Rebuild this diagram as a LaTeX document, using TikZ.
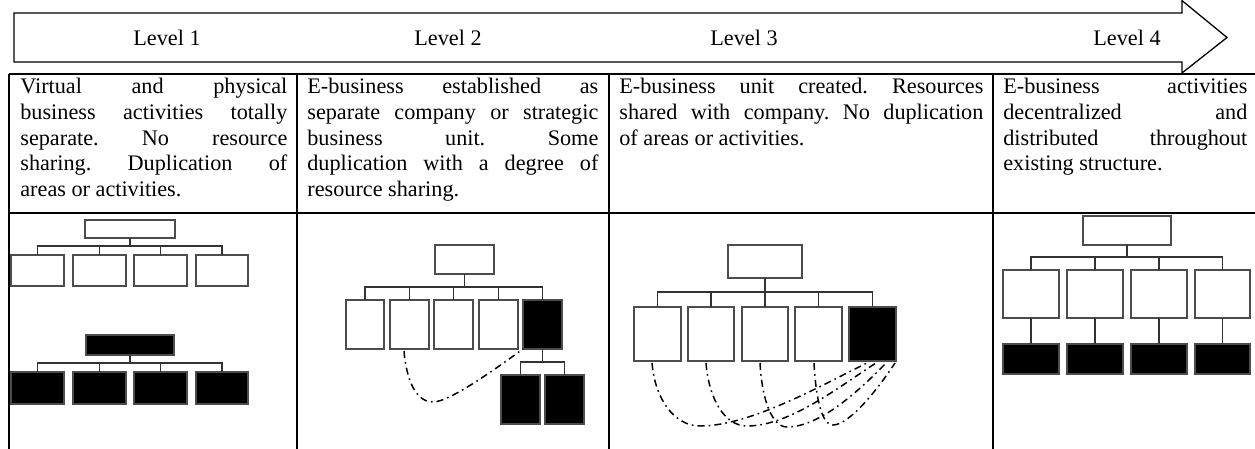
\documentclass[tikz,border=0pt]{standalone}
\usepackage{fontspec}
\setmainfont{Liberation Serif}
\usetikzlibrary{calc}
\frenchspacing
\newcommand\orgbox[6]{%
  \node[#1, minimum width={(#5-#3)*0.54pt}, minimum height={(#6-#4)*0.54pt}] (#2) at ({(#3+#5)/2},{(#4+#6)/2}) {};}
\newcommand\branch[3]{% top, child, bar
  \draw[link] (#2.north) |- (#1.south |- #3);}
\begin{document}
\begin{tikzpicture}[x=0.54pt, y=-0.54pt,
  wbox/.style={draw=black!70, fill=white, line width=0.6pt, inner sep=0pt, outer sep=0pt},
  bbox/.style={wbox, fill=black},
  link/.style={draw=black!80, line width=0.6pt},
  share/.style={line width=0.8pt, dash pattern=on 3.8pt off 2.2pt on 0.9pt off 2.2pt},
  tbl/.style={line width=1.1pt},
  lvl/.style={font=\fontsize{12pt}{13.8pt}\selectfont, inner sep=0pt},
  cell/.style={font=\fontsize{12pt}{13.8pt}\selectfont\frenchspacing, align=justify, anchor=base west, inner sep=0pt}]
\useasboundingbox (0,0) rectangle (1255,449);
\tolerance=10000 \hbadness=10000 \hyphenpenalty=10000

% process arrow
\draw[line width=0.7pt, line join=miter] (14,13) -- (1182,13) -- (1182,0.6) -- (1227,37.5) -- (1182,73) -- (1182,62) -- (14,62) -- cycle;
\node[lvl] (l1) at (167,38) {Level 1};
\node[lvl] (l2) at (448,38) {Level 2};
\node[lvl] (l3) at (744,38) {Level 3};
\node[lvl] (l4) at (1127,38) {Level 4};

% table rules
\draw[tbl] (9,74) -- (1255,74);
\draw[tbl] (9,213) -- (1255,213);
\foreach \x in {9,297,609,993} \draw[tbl] (\x,74) -- (\x,449);

% descriptions
\node[cell, text width=267*0.54pt] (t1) at (20,94) {Virtual and physical\linebreak business activities totally\linebreak separate. No resource\linebreak sharing. Duplication of\linebreak areas or activities.};
\node[cell, text width=291*0.54pt] (t2) at (307,94) {E-business established as\linebreak separate company or strategic\linebreak business unit. Some\linebreak duplication with a degree of\linebreak resource sharing.};
\node[cell, text width=364*0.54pt] (t3) at (619,94) {E-business unit created. Resources\linebreak shared with company. No duplication\linebreak of areas or activities.};
\node[cell, text width=244*0.54pt] (t4) at (1003,94) {E-business activities\linebreak decentralized and\linebreak distributed throughout\linebreak existing structure.};

% ---- Level 1 ----
\orgbox{wbox}{a0}{85}{220}{175}{238}
\orgbox{wbox}{a1}{11}{255}{64}{286}
\orgbox{wbox}{a2}{73}{255}{126}{286}
\orgbox{wbox}{a3}{134}{255}{187}{286}
\orgbox{wbox}{a4}{196}{255}{248}{286}
\coordinate (abar) at (0,246);
\draw[link] (a0.south) -- (a0.south |- abar);
\foreach \c in {a1,a2,a3,a4} \branch{a0}{\c}{abar};
\orgbox{bbox}{b0}{86}{335}{174}{355}
\orgbox{bbox}{b1}{11}{372}{64}{404}
\orgbox{bbox}{b2}{73}{372}{126}{404}
\orgbox{bbox}{b3}{134}{372}{187}{404}
\orgbox{bbox}{b4}{196}{372}{248}{404}
\coordinate (bbar) at (0,363);
\draw[link] (b0.south) -- (b0.south |- bbar);
\foreach \c in {b1,b2,b3,b4} \branch{b0}{\c}{bbar};

% ---- Level 2 ----
\orgbox{wbox}{c0}{435}{245}{494}{274}
\orgbox{wbox}{c1}{346}{300}{384}{349}
\orgbox{wbox}{c2}{390}{300}{429}{349}
\orgbox{wbox}{c3}{434}{300}{473}{349}
\orgbox{wbox}{c4}{479}{300}{518}{349}
\orgbox{bbox}{c5}{523}{300}{562}{349}
\coordinate (cbar) at (0,287);
\draw[link] (c0.south) -- (c0.south |- cbar);
\foreach \c in {c1,c2,c3,c4,c5} \branch{c0}{\c}{cbar};
\orgbox{bbox}{c6}{501}{375}{540}{424}
\orgbox{bbox}{c7}{545}{375}{584}{424}
\coordinate (c5bar) at (0,362);
\draw[link] (c5.south) -- (c5.south |- c5bar);
\foreach \c in {c6,c7} \branch{c5}{\c}{c5bar};
\coordinate (cs) at (404,351);
\coordinate (cm) at (433,402);
\draw[share] (cs) .. controls (407,385) and (418,402) .. (cm) .. controls (450,402) and (498,367) .. (c5.south west);

% ---- Level 3 ----
\orgbox{wbox}{d0}{728}{245}{802}{278}
\orgbox{wbox}{d1}{634}{307}{681}{361}
\orgbox{wbox}{d2}{688}{307}{734}{361}
\orgbox{wbox}{d3}{742}{307}{788}{361}
\orgbox{wbox}{d4}{795}{307}{842}{361}
\orgbox{bbox}{d5}{849}{307}{896}{361}
\coordinate (dbar) at (0,292);
\draw[link] (d0.south) -- (d0.south |- dbar);
\foreach \c in {d1,d2,d3,d4,d5} \branch{d0}{\c}{dbar};
\coordinate (ds1) at (652,363); \coordinate (dm1) at (700,426); \coordinate (de1) at (867,363);
\coordinate (ds2) at (706,363); \coordinate (dm2) at (747,426); \coordinate (de2) at (876,363);
\coordinate (ds3) at (760,363); \coordinate (dm3) at (787,427); \coordinate (de3) at (886,363);
\coordinate (ds4) at (814,363); \coordinate (dm4) at (833,425); \coordinate (de4) at (895,363);
\draw[share] (ds1) .. controls (655,400) and (675,426) .. (dm1) .. controls (750,426) and (820,386) .. (de1);
\draw[share] (ds2) .. controls (709,400) and (725,426) .. (dm2) .. controls (790,426) and (840,386) .. (de2);
\draw[share] (ds3) .. controls (762,400) and (772,427) .. (dm3) .. controls (820,427) and (860,390) .. (de3);
\draw[share] (ds4) .. controls (816,400) and (822,425) .. (dm4) .. controls (850,425) and (880,386) .. (de4);

% ---- Level 4 ----
\orgbox{wbox}{e0}{1083}{216}{1171}{245}
\orgbox{wbox}{e1}{1003}{270}{1059}{318}
\orgbox{wbox}{e2}{1067}{270}{1123}{318}
\orgbox{wbox}{e3}{1131}{270}{1187}{318}
\orgbox{wbox}{e4}{1195}{270}{1250}{318}
\coordinate (ebar) at (0,257);
\draw[link] (e0.south) -- (e0.south |- ebar);
\foreach \c in {e1,e2,e3,e4} \branch{e0}{\c}{ebar};
\orgbox{bbox}{f1}{1003}{344}{1059}{374}
\orgbox{bbox}{f2}{1067}{344}{1123}{374}
\orgbox{bbox}{f3}{1131}{344}{1187}{374}
\orgbox{bbox}{f4}{1195}{344}{1250}{374}
\foreach \i in {1,2,3,4} \draw[link] (e\i.south) -- (f\i.north);
\end{tikzpicture}
\end{document}
